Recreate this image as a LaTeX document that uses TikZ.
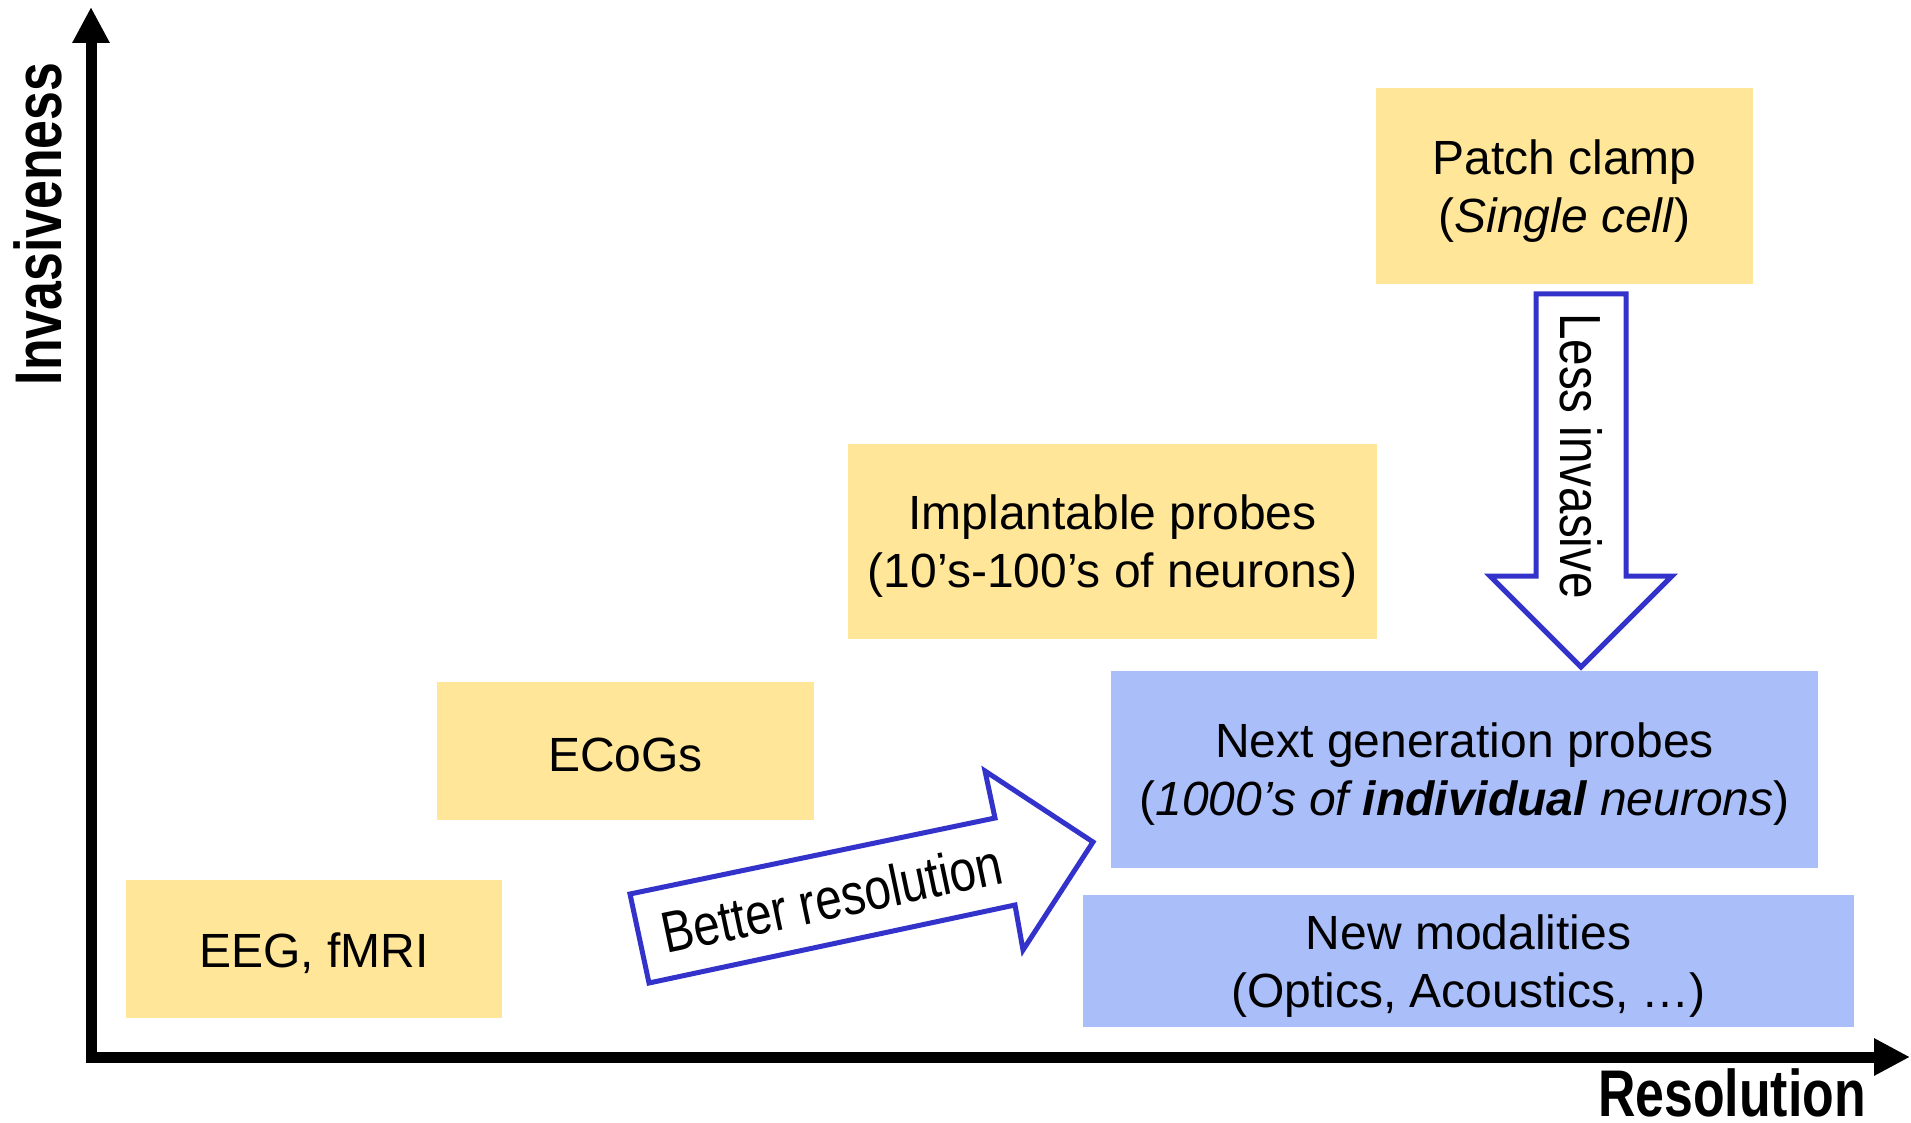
\documentclass[tikz,border=0pt]{standalone}
\usepackage{fontspec}
\setmainfont{Liberation Sans}
\usetikzlibrary{arrows.meta}
\definecolor{boxyellow}{HTML}{FFE699}
\definecolor{boxblue}{HTML}{AABFFA}
\definecolor{arrowblue}{HTML}{3333CC}
\newcommand{\boxfont}{\fontsize{48}{58}\selectfont}
\newcommand{\axisfont}{\fontsize{66}{70}\selectfont\bfseries}
\newcommand{\arrowfont}{\fontsize{58}{60}\selectfont}
\begin{document}
\begin{tikzpicture}[x=1pt,y=-1pt,
  ybox/.style={fill=boxyellow, inner sep=0pt},
  bbox/.style={fill=boxblue, inner sep=0pt},
  boxtext/.style={inner sep=0pt, align=center, font=\boxfont},
  axisline/.style={line width=11pt, line cap=rect, -{Triangle[length=36pt,width=35pt]}},
  blockarrow/.style={draw=arrowblue, line width=5pt, fill=white, line join=miter},
  axislabel/.style={font=\axisfont, inner sep=0pt},
  arrowlabel/.style={font=\arrowfont, inner sep=0pt}]
\useasboundingbox (0,0) rectangle (1911,1123);
\fill[white] (0,0) rectangle (1911,1123);

% boxes
\node[ybox, minimum width=377pt, minimum height=196pt] (patch) at (1564.5,186) {};
\node[boxtext] (patchtxt) at ([yshift=-5pt]patch.center) {Patch clamp\\(\textit{Single cell})};
\node[ybox, minimum width=529pt, minimum height=195pt] (impl) at (1112.5,541.5) {};
\node[boxtext] (impltxt) at ([yshift=-5pt]impl.center) {Implantable probes\\(10’s-100’s of neurons)};
\node[ybox, minimum width=377pt, minimum height=138pt] (ecog) at (625.5,751) {};
\node[boxtext] (ecogtxt) at ([yshift=-4pt]ecog.center) {ECoGs};
\node[ybox, minimum width=376pt, minimum height=138pt] (eeg) at (314,949) {};
\node[boxtext] (eegtxt) at ([yshift=-4pt]eeg.center) {EEG, fMRI};
\node[bbox, minimum width=707pt, minimum height=197pt] (nextgen) at (1464.5,769.5) {};
\node[boxtext] (nextgentxt) at ([yshift=-5pt]nextgen.center) {Next generation probes\\(\textit{1000’s of \textbf{individual} neurons})};
\node[bbox, minimum width=771pt, minimum height=132pt] (newmod) at (1468.5,961) {};
\node[boxtext] (newmodtxt) at ([yshift=-5pt]newmod.center) {New modalities\\(Optics, Acoustics, …)};

% axes
\coordinate (origin) at (91,1057);
\coordinate (ytop) at (91,7);
\coordinate (xend) at (1910,1057);
\draw[axisline] (origin) -- (ytop);
\draw[axisline] (origin) -- (xend);
\node[axislabel, rotate=90] (ylab) at (38,224) {\scalebox{0.785}[1]{Invasiveness}};
\node[axislabel] (xlab) at (1732,1093) {\scalebox{0.785}[1]{Resolution}};

% block arrows
\draw[blockarrow] (630,894) -- (995,818) -- (985,771) -- (1093,842) -- (1023,950) -- (1015,905) -- (649,983) -- cycle;
\node[arrowlabel, rotate=11.9] (better) at (832,898) {\scalebox{0.82}[1]{Better resolution}};

\draw[blockarrow] (1536,294) -- (1626,294) -- (1626,576) -- (1672,576) -- (1581,667) -- (1490,576) -- (1536,576) -- cycle;
\node[arrowlabel, rotate=-90] (less) at (1581,456) {\scalebox{0.82}[1]{Less invasive}};
\end{tikzpicture}
\end{document}
